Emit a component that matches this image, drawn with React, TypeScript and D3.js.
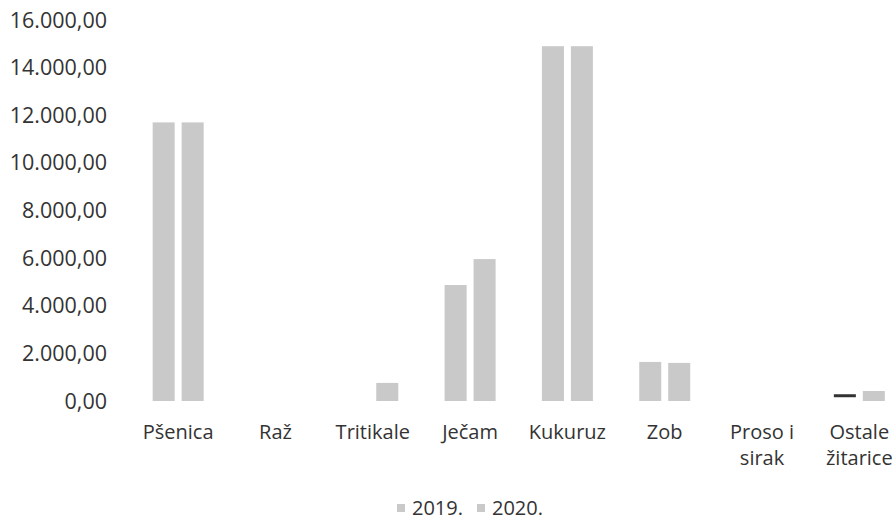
import React from "react";
import { scaleBand, scaleLinear, format } from "d3";

const categories = [
  ["Pšenica"],
  ["Raž"],
  ["Tritikale"],
  ["Ječam"],
  ["Kukuruz"],
  ["Zob"],
  ["Proso i", "sirak"],
  ["Ostale", "žitarice"],
];
const series = ["2019.", "2020."];
const values2019 = [11700, 0, 0, 4870, 14900, 1640, 0, 200];
const values2020 = [11700, 0, 760, 5960, 14900, 1600, 0, 420];
const yTicks = [0, 2000, 4000, 6000, 8000, 10000, 12000, 14000, 16000];

const W = 895;
const H = 522;
const FONT = "'Open Sans', 'Noto Sans', sans-serif";
const barColor = "#c9c9c9";

// 16000 -> "16.000,00"
const fmt = (v: number) => {
  const s = format(",.2f")(v);
  return s.replace(/,/g, "#").replace(/\./g, ",").replace(/#/g, ".");
};

export default function App() {
  const names = categories.map((c) => c.join(" "));
  const x0 = scaleBand<string>()
    .domain(names)
    .range([129.5, 908])
    .paddingInner(0.476)
    .paddingOuter(0.238);
  const x1 = scaleBand<string>()
    .domain(series)
    .range([0, x0.bandwidth()])
    .paddingInner(0.24);
  const y = scaleLinear().domain([0, 16000]).range([401, 20]);
  const data = [values2019, values2020];

  return (
    <svg
      width={W}
      height={H}
      style={{ position: "absolute", left: 0, top: 0, background: "#fff" }}
      fontFamily={FONT}
    >
      <g>
        {yTicks.map((t) => (
          <text
            key={t}
            x={107}
            y={y(t)}
            dy="0.35em"
            textAnchor="end"
            fontSize={21.5}
            fill="#333"
          >
            {fmt(t)}
          </text>
        ))}
      </g>
      <g>
        {names.map((n, i) => (
          <g key={n} transform={`translate(${x0(n)},0)`}>
            {series.map((s, j) => {
              const v = data[j][i];
              if (v <= 0) return null;
              // the scan shows this tiny 2019 bar as a dark stroke
              const dark = i === 7 && j === 0;
              return (
                <rect
                  key={s}
                  x={x1(s)}
                  y={dark ? y(v) - 2 : y(v)}
                  width={x1.bandwidth()}
                  height={dark ? 3 : y(0) - y(v)}
                  fill={dark ? "#333" : barColor}
                />
              );
            })}
          </g>
        ))}
      </g>
      <g>
        {categories.map((lines, i) => {
          const n = names[i];
          const cx = (x0(n) ?? 0) + x0.bandwidth() / 2;
          return (
            <text key={n} x={cx} y={432} textAnchor="middle" fontSize={20} fill="#333">
              {lines.map((l, k) => (
                <tspan key={k} x={cx} dy={k === 0 ? "0.35em" : 26}>
                  {l}
                </tspan>
              ))}
            </text>
          );
        })}
      </g>
      <g transform="translate(397,508)">
        {series.map((s, j) => (
          <g key={s} transform={`translate(${j * 80},0)`}>
            <rect x={0} y={-4} width={8} height={8} fill={barColor} />
            <text x={15} y={0} dy="0.35em" fontSize={20} fill="#333">
              {s}
            </text>
          </g>
        ))}
      </g>
    </svg>
  );
}
